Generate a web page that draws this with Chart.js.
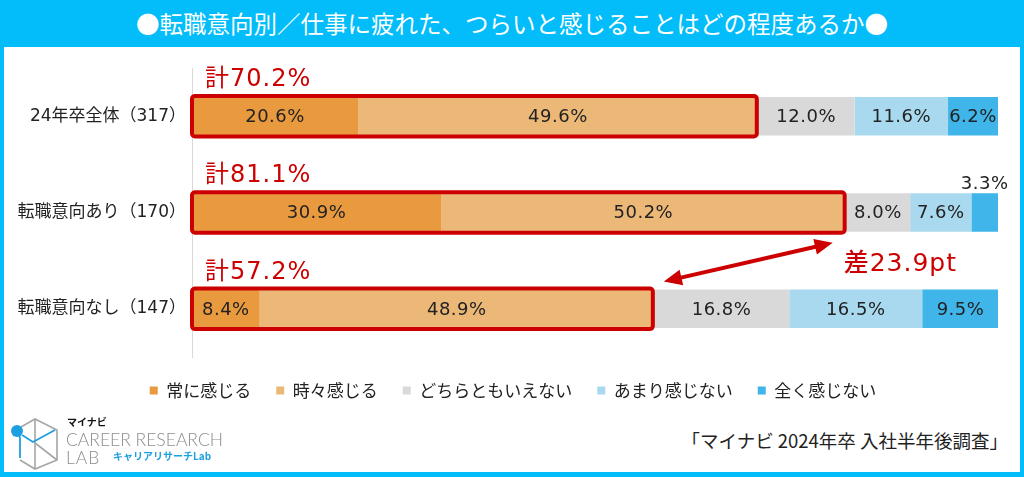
<!DOCTYPE html>
<html lang="ja">
<head>
<meta charset="utf-8">
<script src="https://cdn.jsdelivr.net/npm/chart.js@4.4.1/dist/chart.umd.min.js"></script>
<style>
  html, body { margin: 0; padding: 0; }
  body {
    width: 1024px; height: 477px; position: relative; overflow: hidden;
    background: #02bdf9; font-family: "Noto Sans CJK JP", sans-serif;
  }
  #title {
    position: absolute; left: 0; top: 0; width: 1024px; height: 47px;
    line-height: 47px; text-align: center; color: #fff; font-size: 23.5px;
  }
  #panel { position: absolute; left: 4px; top: 47px; width: 1016px; height: 425px; background: #fff; }
  #wrap { position: absolute; left: 0; top: 0; width: 1024px; height: 409px; }
  #source { position: absolute; right: 16px; top: 428px; font-size: 18.5px; color: #222; line-height: 24px; }
  .logo { position: absolute; line-height: 1; white-space: nowrap; }
  #lg1 { left: 67px; top: 417px; font-size: 10px; font-weight: bold; color: #111; }
  #lg2 { left: 66px; top: 431px; font-family: Lato, sans-serif; font-weight: 300; font-size: 17.5px; color: #8c8c8c; }
  #lg3 { left: 66px; top: 449px; font-family: Lato, sans-serif; font-weight: 300; font-size: 17.5px; color: #8c8c8c; letter-spacing: 1px; }
  #lg4 { left: 113px; top: 451px; font-size: 10px; font-weight: bold; color: #1e9fe0; }
</style>
</head>
<body>
<div id="title">●転職意向別／仕事に疲れた、つらいと感じることはどの程度あるか●</div>
<div id="panel"></div>
<div id="wrap"><canvas id="myChart"></canvas></div>

<svg style="position:absolute;left:0;top:405px" width="64" height="70">
  <g fill="none" stroke="#a6a6a6" stroke-width="1.6">
    <polyline points="21,22 35,14 57,25 57,55 35,64 20,55" />
    <polyline points="35,14 35,38 57,55" />
    <line x1="35" y1="38" x2="35" y2="64" />
  </g>
  <g fill="none" stroke="#1e9fe0" stroke-width="1.8">
    <polyline points="18,27 20,33 20,53" />
    <polyline points="22,30 33,37 55,25" />
  </g>
  <circle cx="17" cy="26" r="6" fill="#1e9fe0" />
</svg>
<div class="logo" id="lg1">マイナビ</div>
<div class="logo" id="lg2">CAREER RESEARCH</div>
<div class="logo" id="lg3">LAB</div>
<div class="logo" id="lg4">キャリアリサーチLab</div>
<div id="source">「マイナビ 2024年卒 入社半年後調査」</div>

<script>
const categories = ["24年卒全体（317）", "転職意向あり（170）", "転職意向なし（147）"];
const seriesNames = ["常に感じる", "時々感じる", "どちらともいえない", "あまり感じない", "全く感じない"];
const always = [20.6, 30.9, 8.4];
const sometimes = [49.6, 50.2, 48.9];
const neither = [12.0, 8.0, 16.8];
const rarely = [11.6, 7.6, 16.5];
const never = [6.2, 3.3, 9.5];
const totals = [70.2, 81.1, 57.2];
const barColors = ["#e99a3f", "#ecb878", "#d9d9d9", "#a9d9ee", "#3fb5e9"];

const red = "#cc0000";
const seriesValues = [always, sometimes, neither, rarely, never];

function arrowHead(ctx, tip, from, len, half) {
  const a = Math.atan2(tip.y - from.y, tip.x - from.x);
  const bx = tip.x - len * Math.cos(a);
  const by = tip.y - len * Math.sin(a);
  ctx.beginPath();
  ctx.moveTo(tip.x, tip.y);
  ctx.lineTo(bx + half * Math.sin(a), by - half * Math.cos(a));
  ctx.lineTo(bx - half * Math.sin(a), by + half * Math.cos(a));
  ctx.closePath();
  ctx.fill();
}

// labels, red boxes and the arrow on top of the bars
const overlay = {
  id: "overlay",
  afterLayout(chart) {
    // legend sits a little right of the plot centre in the original
    chart.legend.left += 12;
    chart.legend.right += 12;
  },
  afterDatasetsDraw(chart) {
    const ctx = chart.ctx;
    const xScale = chart.scales.x;
    ctx.save();

    ctx.font = '18px "DejaVu Sans"';
    ctx.letterSpacing = "0.5px";
    ctx.textAlign = "center";
    ctx.textBaseline = "middle";
    ctx.fillStyle = "#222";
    chart.data.datasets.forEach((ds, di) => {
      chart.getDatasetMeta(di).data.forEach((bar, i) => {
        const v = ds.data[i];
        const cx = (bar.base + bar.x) / 2;
        if (v < 5) {
          ctx.fillText(v.toFixed(1) + "%", cx, bar.y - bar.height / 2 - 9);
        } else {
          ctx.fillText(v.toFixed(1) + "%", cx, bar.y + 1);
        }
      });
    });

    const meta = chart.getDatasetMeta(1);
    const left = xScale.getPixelForValue(0);
    ctx.strokeStyle = red;
    ctx.fillStyle = red;
    ctx.lineWidth = 4;
    ctx.textAlign = "left";
    ctx.letterSpacing = "1px";
    ctx.font = '24px "DejaVu Sans", "Noto Sans CJK JP"';
    meta.data.forEach((bar, i) => {
      const top = bar.y - bar.height / 2 - 1;
      const bottom = bar.y + bar.height / 2 + 1;
      ctx.beginPath();
      ctx.roundRect(left, top, bar.x - left - 1, bottom - top, 3);
      ctx.stroke();
      ctx.fillText("計" + totals[i].toFixed(1) + "%", left + 13, top - 16);
    });

    const b2 = meta.data[1];
    const b3 = meta.data[2];
    const p1 = { x: b3.x + 10, y: b3.y - b3.height / 2 - 8 };
    const p2 = { x: b2.x - 13, y: b2.y + b2.height / 2 + 11 };
    const a = Math.atan2(p2.y - p1.y, p2.x - p1.x);
    ctx.lineWidth = 4;
    ctx.beginPath();
    ctx.moveTo(p1.x + 12 * Math.cos(a), p1.y + 12 * Math.sin(a));
    ctx.lineTo(p2.x - 12 * Math.cos(a), p2.y - 12 * Math.sin(a));
    ctx.stroke();
    arrowHead(ctx, p2, p1, 18, 8);
    arrowHead(ctx, p1, p2, 18, 8);

    ctx.font = '500 25px "DejaVu Sans", "Noto Sans CJK JP"';
    ctx.letterSpacing = "1px";
    ctx.fillText("差" + (totals[1] - totals[2]).toFixed(1) + "pt", b2.x - 2, (b2.y + b3.y) / 2 + 4);
    ctx.restore();
  }
};

new Chart("myChart", {
  type: "bar",
  data: {
    labels: categories,
    datasets: seriesNames.map((name, i) => ({
      label: name,
      data: seriesValues[i],
      backgroundColor: barColors[i],
      borderWidth: 0,
      barPercentage: 0.4,
      categoryPercentage: 1
    }))
  },
  options: {
    indexAxis: "y",
    responsive: true,
    maintainAspectRatio: false,
    animation: false,
    events: [],
    layout: { padding: { top: 68, left: 4, right: 26, bottom: 0 } },
    scales: {
      x: { stacked: true, min: 0, max: 100, display: false },
      y: {
        stacked: true,
        grid: { display: false, drawTicks: false },
        border: { display: true, color: "#d9d9d9" },
        ticks: { padding: 6, color: "#222", font: { family: '"DejaVu Sans", "Noto Sans CJK JP"', size: 17 } },
        afterFit(scale) { scale.width = 188; }
      }
    },
    plugins: {
      tooltip: { enabled: false },
      legend: {
        position: "bottom",
        labels: {
          boxWidth: 8,
          boxHeight: 8,
          padding: 25,
          color: "#222",
          font: { family: "Noto Sans CJK JP", size: 17 }
        }
      }
    }
  },
  plugins: [overlay]
});
</script>
</body>
</html>
